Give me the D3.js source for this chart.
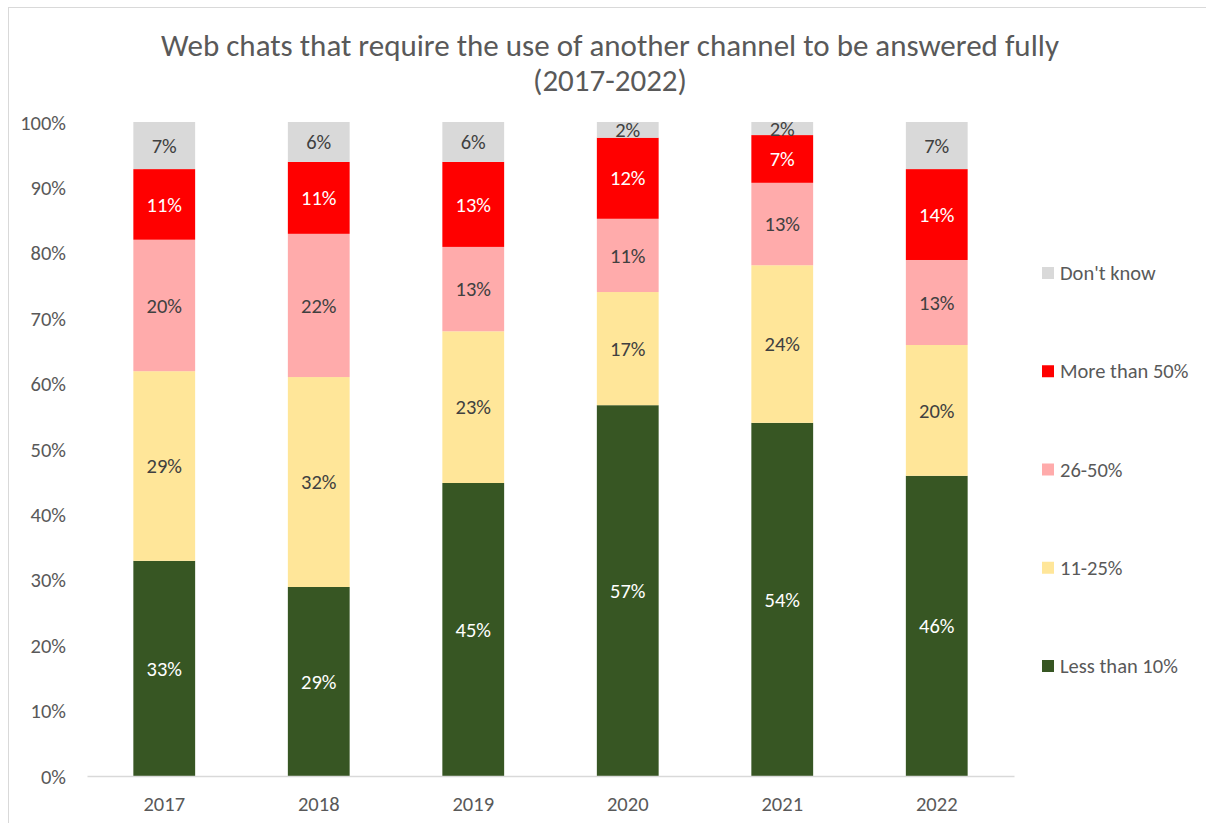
<!DOCTYPE html>
<html><head><meta charset="utf-8">
<script src="https://cdn.jsdelivr.net/npm/d3@7"></script>
<style>body{margin:0;background:#fff}svg{display:block}text{font-family:Carlito,Lato,"Liberation Sans",sans-serif}</style>
</head><body><svg id="c" width="1206" height="823"></svg>
<script>
const years = ["2017","2018","2019","2020","2021","2022"];
const seriesNames = ["Less than 10%","11-25%","26-50%","More than 50%","Don't know"];
const lessThan10 = [32.9, 28.9, 44.8, 56.7, 54.0, 45.9];
const from11to25 = [29.0, 32.1, 23.2, 17.3, 24.1, 20.0];
const from26to50 = [20.1, 21.9, 12.9, 11.2, 12.6, 13.0];
const moreThan50 = [10.8, 11.0, 13.0, 12.4, 7.3, 13.9];
const dontKnow   = [7.2, 6.1, 6.1, 2.4, 2.0, 7.2];
const yTicks = [0,10,20,30,40,50,60,70,80,90,100];
const colors = ["#375623","#ffe699","#ffabab","#ff0000","#d9d9d9"];
const labelColors = ["#ffffff","#404040","#404040","#ffffff","#404040"];
const FS = 20.5;

const values = [lessThan10, from11to25, from26to50, moreThan50, dontKnow];
const table = years.map((y,i)=>{const o={year:y}; seriesNames.forEach((s,k)=>o[s]=values[k][i]); return o;});
const stack = d3.stack().keys(seriesNames)(table);

const svg = d3.select("#c");
svg.append("rect").attr("x",8.5).attr("y",7.5).attr("width",1210).attr("height",830).attr("fill","#fff").attr("stroke","#d9d9d9");

const x = d3.scaleBand().domain(years).range([87,1014]).paddingInner(0.6).paddingOuter(0.3);
const y = d3.scaleLinear().domain([0,100]).range([776,122]);

// title
const title = svg.append("text").attr("text-anchor","middle").attr("fill","#595959").attr("font-size",31);
title.append("tspan").attr("x",610).attr("y",56).text("Web chats that require the use of another channel to be answered fully");
title.append("tspan").attr("x",610).attr("y",91).text("(2017-2022)");

// y axis
const ya = svg.append("g").attr("transform","translate(70,0)")
  .call(d3.axisLeft(y).tickValues(yTicks).tickFormat(d=>d+"%").tickSize(0));
ya.select(".domain").remove();
ya.selectAll("text").attr("fill","#595959").attr("font-size",FS).attr("font-family","Carlito,Lato,'Liberation Sans',sans-serif").attr("dy","0.35em").attr("x",-4);

// bars
const g = svg.append("g");
stack.forEach((layer,k)=>{
  g.selectAll(null).data(layer).enter().append("rect")
    .attr("x",d=>x(d.data.year)).attr("width",x.bandwidth())
    .attr("y",d=>y(d[1])).attr("height",d=>y(d[0])-y(d[1]))
    .attr("fill",colors[k]);
});
// x axis
const xa = svg.append("g").attr("transform","translate(0,776)")
  .call(d3.axisBottom(x).tickSize(0));
xa.select(".domain").attr("stroke","#d9d9d9").attr("stroke-width",1.3);
xa.selectAll("text").attr("fill","#595959").attr("font-size",FS).attr("font-family","Carlito,Lato,'Liberation Sans',sans-serif").attr("dy","0").attr("y",35);

// labels
stack.forEach((layer,k)=>{
  g.selectAll(null).data(layer).enter().append("text")
    .attr("x",d=>x(d.data.year)+x.bandwidth()/2)
    .attr("y",d=>(y(d[0])+y(d[1]))/2)
    .attr("dy","0.35em").attr("text-anchor","middle").attr("font-size",FS)
    .attr("fill",labelColors[k])
    .text(d=>Math.round(d[1]-d[0])+"%");
});

// legend
const legendY = d3.scalePoint().domain(seriesNames.slice().reverse()).range([273,666]);
const lg = svg.append("g");
seriesNames.forEach((s,k)=>{
  lg.append("rect").attr("x",1042).attr("y",legendY(s)-6).attr("width",12).attr("height",12).attr("fill",colors[k]);
  lg.append("text").attr("x",1060).attr("y",legendY(s)).attr("dy","0.35em").attr("font-size",FS).attr("fill","#595959").text(s);
});
</script></body></html>
